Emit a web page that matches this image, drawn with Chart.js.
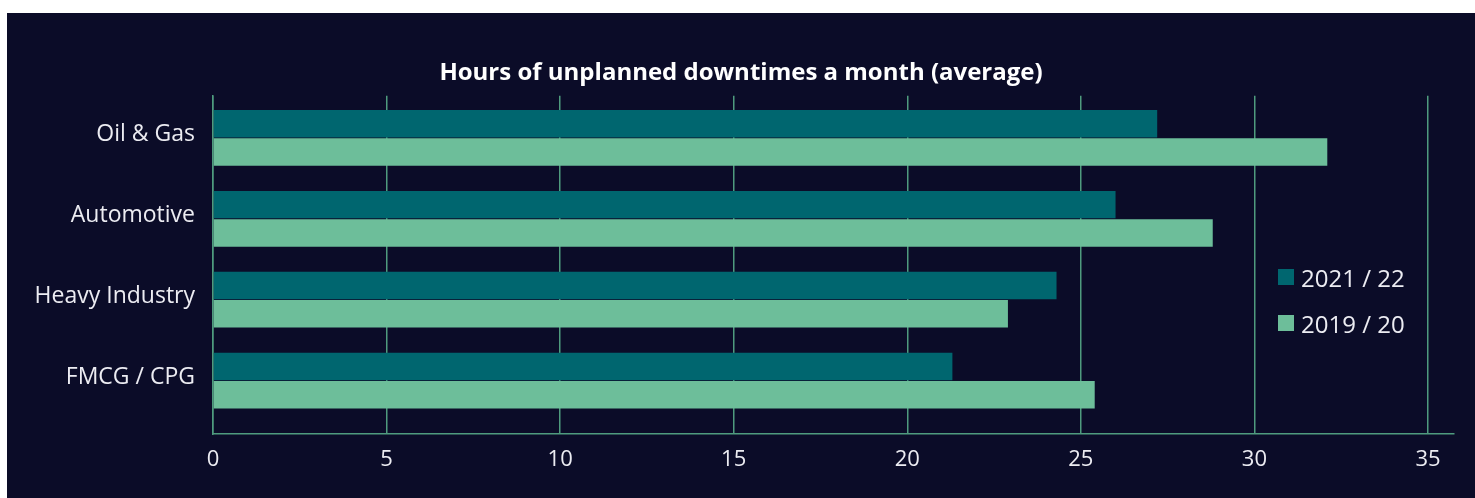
<!DOCTYPE html>
<html>
<head>
<meta charset="utf-8">
<script src="https://cdn.jsdelivr.net/npm/chart.js@4/dist/chart.umd.min.js"></script>
<style>
  body { margin: 0; background: #ffffff; }
  #wrap { position: absolute; left: 7px; top: 13px; width: 1468px; height: 485px; background: #0b0c28; }
  #legend { position: absolute; left: 1278px; top: 263px; font-family: 'Open Sans', sans-serif; font-size: 24px; color: #ececf2; }
  #legend .item { display: flex; align-items: center; height: 28px; margin-bottom: 18px; }
  #legend .box { width: 16px; height: 16px; margin-right: 7px; }
</style>
</head>
<body>
<div id="wrap"><canvas id="chart"></canvas></div>
<div id="legend"></div>
<script>
// Chart data
const categories = ['Oil & Gas', 'Automotive', 'Heavy Industry', 'FMCG / CPG'];
const seriesLabels = ['2021 / 22', '2019 / 20'];
const values2122 = [27.2, 26.0, 24.3, 21.3];
const values1920 = [32.1, 28.8, 22.9, 25.4];
const xTicks = [0, 5, 10, 15, 20, 25, 30, 35];

const colors = ['#00666f', '#6dbe9a'];
const gridColor = '#4f9b7e';
const textColor = '#ececf2';
const fontFamily = "'Open Sans', sans-serif";

// bars sit on a linear index axis so the bottom gap can be wider than the top one
const toPoints = vals => vals.map((v, i) => ({ x: v, y: i }));

const ctx = document.getElementById('chart').getContext('2d');

new Chart(ctx, {
  type: 'bar',
  data: {
    datasets: [
      {
        label: seriesLabels[0],
        data: toPoints(values2122),
        backgroundColor: colors[0],
        categoryPercentage: 0.7,
        barPercentage: 0.97
      },
      {
        label: seriesLabels[1],
        data: toPoints(values1920),
        backgroundColor: colors[1],
        categoryPercentage: 0.7,
        barPercentage: 0.97
      }
    ]
  },
  options: {
    indexAxis: 'y',
    responsive: true,
    maintainAspectRatio: false,
    animation: false,
    layout: {
      padding: 0
    },
    plugins: {
      legend: { display: false },
      tooltip: { enabled: false },
      title: {
        display: true,
        text: 'Hours of unplanned downtimes a month (average)',
        color: '#ffffff',
        font: { family: fontFamily, size: 24, weight: 'bold', lineHeight: 1.2 },
        padding: { top: 46, bottom: 8 }
      }
    },
    scales: {
      x: {
        type: 'linear',
        min: 0,
        max: 35.75,
        afterBuildTicks: scale => {
          scale.ticks = xTicks.map(v => ({ value: v }));
        },
        afterFit: scale => {
          scale.height = 64;
        },
        grid: {
          color: gridColor,
          lineWidth: 1.5,
          drawTicks: false
        },
        border: { color: gridColor, width: 1.5 },
        ticks: {
          color: textColor,
          padding: 13,
          font: { family: fontFamily, size: 22 }
        }
      },
      y: {
        type: 'linear',
        reverse: true,
        offset: false,
        min: -0.52,
        max: 3.66,
        afterBuildTicks: scale => {
          scale.ticks = categories.map((c, i) => ({ value: i }));
        },
        afterFit: scale => {
          scale.width = 206;
        },
        grid: { display: false, drawTicks: false, offset: false },
        border: { color: gridColor, width: 1.5 },
        ticks: {
          color: textColor,
          padding: 18,
          labelOffset: -3,
          font: { family: fontFamily, size: 23 },
          callback: v => categories[v]
        }
      },
      // empty right axis, only keeps the plot off the right edge
      yRight: {
        type: 'linear',
        position: 'right',
        afterFit: scale => {
          scale.width = 21;
        },
        grid: { display: false, drawTicks: false },
        border: { display: false },
        ticks: { display: false }
      }
    }
  }
});

// Legend on the right, inside the plot
const legend = document.getElementById('legend');
seriesLabels.forEach((label, i) => {
  const item = document.createElement('div');
  item.className = 'item';
  item.innerHTML = '<span class="box" style="background:' + colors[i] + '"></span><span>' + label + '</span>';
  legend.appendChild(item);
});
</script>
</body>
</html>
